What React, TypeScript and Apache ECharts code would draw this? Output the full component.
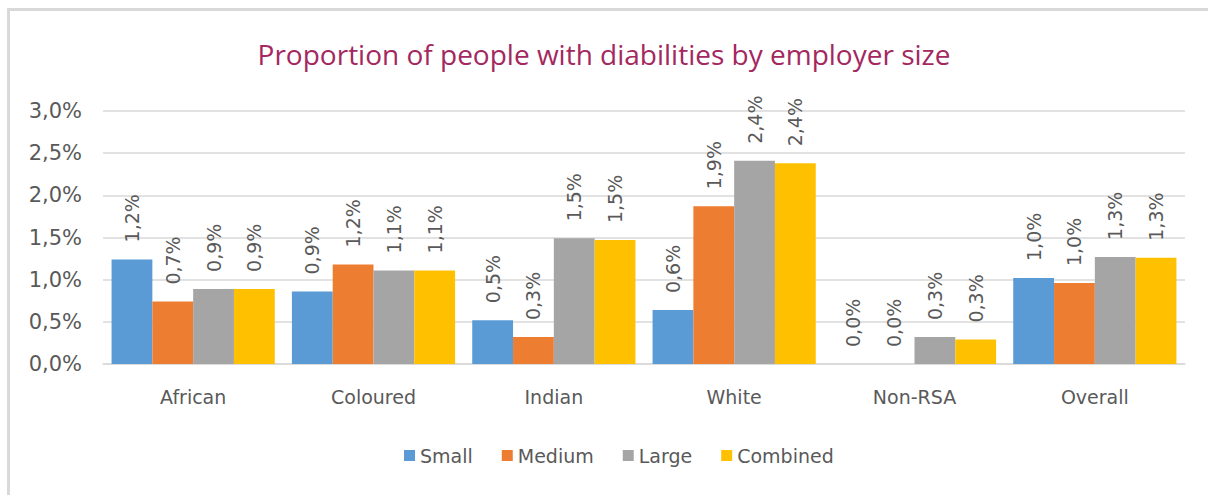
import React, { useEffect, useRef } from "react";
import * as echarts from "echarts";

const categories = ["African", "Coloured", "Indian", "White", "Non-RSA", "Overall"];
const seriesNames = ["Small", "Medium", "Large", "Combined"];
const small = [1.24, 0.86, 0.52, 0.64, 0, 1.02];
const medium = [0.74, 1.18, 0.32, 1.87, 0, 0.96];
const large = [0.89, 1.11, 1.49, 2.41, 0.32, 1.27];
const combined = [0.89, 1.11, 1.47, 2.38, 0.29, 1.26];
const colors = ["#5B9BD5", "#ED7D31", "#A5A5A5", "#FFC000"];

const fmt = (v: number) => v.toFixed(1).replace(".", ",") + "%";

export default function App() {
  const ref = useRef<HTMLDivElement>(null);
  useEffect(() => {
    if (!ref.current) return;
    const chart = echarts.init(ref.current, undefined, { renderer: "svg" });
    const values = [small, medium, large, combined];
    chart.setOption({
      animation: false,
      backgroundColor: "#ffffff",
      title: {
        text: "Proportion of people with diabilities by employer size",
        left: "center",
        top: 35,
        textStyle: { fontFamily: "Open Sans", fontSize: 28, fontWeight: "normal", color: "#A3285F" },
      },
      graphic: [
        {
          type: "rect",
          shape: { x: 8.5, y: 9.5, width: 1400, height: 700 },
          style: { fill: "none", stroke: "#D9D9D9", lineWidth: 3 },
          silent: true,
        },
      ],
      legend: {
        data: seriesNames,
        bottom: 25,
        left: 399,
        itemWidth: 11,
        itemHeight: 11,
        itemGap: 29,
        icon: "rect",
        textStyle: { fontFamily: "DejaVu Sans", fontSize: 19, color: "#595959" },
      },
      grid: { left: 103, right: 23, top: 111, bottom: 131, containLabel: false },
      xAxis: {
        type: "category",
        data: categories,
        axisLine: { lineStyle: { color: "#D9D9D9", width: 1.5 } },
        axisTick: { show: false },
        axisLabel: { fontFamily: "DejaVu Sans", fontSize: 19, color: "#595959", margin: 23 },
      },
      yAxis: {
        type: "value",
        min: 0,
        max: 3,
        interval: 0.5,
        axisLine: { show: false },
        axisTick: { show: false },
        splitLine: { lineStyle: { color: "#D9D9D9", width: 1.5 } },
        axisLabel: {
          formatter: (v: number) => fmt(v),
          fontFamily: "DejaVu Sans",
          fontSize: 21,
          color: "#595959",
          margin: 21,
        },
      },
      series: seriesNames.map((name, i) => ({
        name,
        type: "bar",
        data: values[i],
        barGap: "0%",
        barCategoryGap: "9.5%",
        itemStyle: { color: colors[i] },
        label: {
          show: true,
          position: "top",
          rotate: 90,
          align: "left",
          verticalAlign: "middle",
          distance: 17,
          formatter: (p: any) => fmt(p.value),
          fontFamily: "DejaVu Sans",
          fontSize: 19,
          color: "#595959",
        },
      })),
    });
    return () => chart.dispose();
  }, []);
  return (
    <div
      ref={ref}
      style={{ position: "fixed", left: 0, top: 0, width: 1208, height: 495 }}
    />
  );
}
